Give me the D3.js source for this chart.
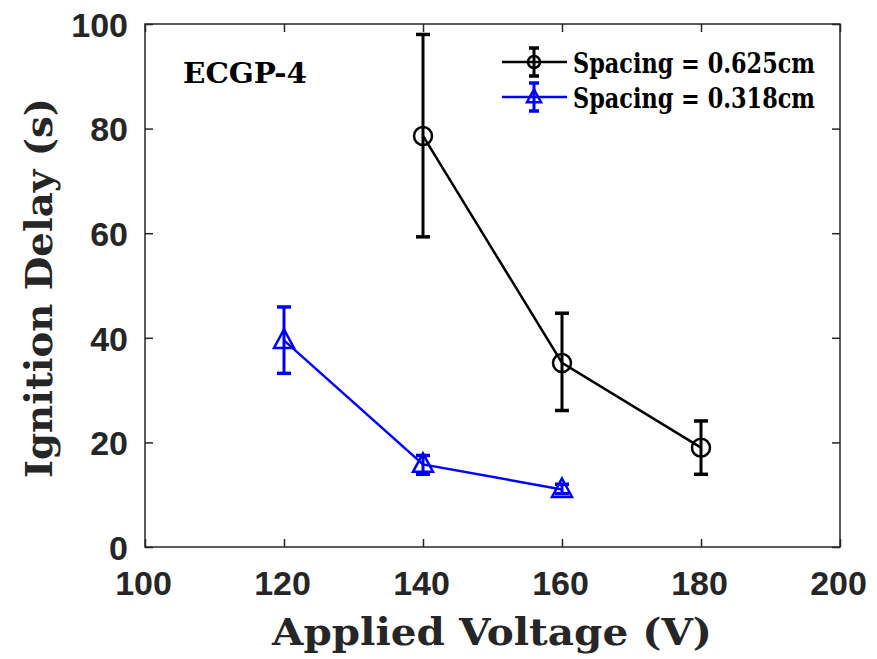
<!DOCTYPE html>
<html><head><meta charset="utf-8">
<script src="https://cdn.jsdelivr.net/npm/d3@7"></script>
<style>body{margin:0;background:#fff}</style>
</head><body>
<svg id="c" width="877" height="659"></svg>
<script>
const voltage1 = [140, 160, 180];
const delay1 = [78.6, 35.2, 19.0];
const lo1 = [59.3, 26.1, 13.9];
const hi1 = [98.0, 44.7, 24.1];
const voltage2 = [120, 140, 160];
const delay2 = [39.5, 15.8, 11.0];
const lo2 = [33.2, 13.9, 10.2];
const hi2 = [45.9, 17.5, 12.0];
const xTicks = [100, 120, 140, 160, 180, 200];
const yTicks = [0, 20, 40, 60, 80, 100];
const seriesNames = ["Spacing = 0.625cm", "Spacing = 0.318cm"];

const svg = d3.select("#c");
const L = 145, R = 840, T = 24, B = 547;
const x = d3.scaleLinear().domain([100, 200]).range([L, R]);
const y = d3.scaleLinear().domain([0, 100]).range([B, T]);
const axCol = "#262626";
const tickFont = "'Liberation Sans', Arial, sans-serif";
const serif = "'DejaVu Serif', 'Liberation Serif', serif";

// box
svg.append("rect").attr("x", L).attr("y", T).attr("width", R - L).attr("height", B - T)
  .attr("fill", "none").attr("stroke", axCol).attr("stroke-width", 1.5);

const gx = svg.append("g").attr("transform", `translate(0,${B})`)
  .call(d3.axisBottom(x).tickValues(xTicks).tickSize(-8).tickPadding(24));
const gxt = svg.append("g").attr("transform", `translate(0,${T})`)
  .call(d3.axisTop(x).tickValues(xTicks).tickSize(-8).tickFormat(""));
const gy = svg.append("g").attr("transform", `translate(${L},0)`)
  .call(d3.axisLeft(y).tickValues(yTicks).tickSize(-8).tickPadding(17));
const gyr = svg.append("g").attr("transform", `translate(${R},0)`)
  .call(d3.axisRight(y).tickValues(yTicks).tickSize(-8).tickFormat(""));
[gx, gxt, gy, gyr].forEach(g => {
  g.select(".domain").remove();
  g.selectAll("line").attr("stroke", axCol).attr("stroke-width", 1.5);
  g.selectAll("text").attr("fill", axCol).attr("font-family", tickFont)
    .attr("font-weight", "bold").attr("font-size", 34);
});
gx.selectAll("text").attr("dy", "0.71em").attr("dx", -2);
gy.selectAll("text").attr("dy", "0.36em");

// axis labels
svg.append("text").attr("x", 492).attr("y", 645).attr("text-anchor", "middle")
  .attr("font-family", serif).attr("font-weight", "bold").attr("font-size", 38)
  .attr("textLength", 440).attr("lengthAdjust", "spacingAndGlyphs")
  .attr("fill", axCol).text("Applied Voltage (V)");
svg.append("text").attr("transform", `translate(52,288) rotate(-90)`)
  .attr("text-anchor", "middle")
  .attr("font-family", serif).attr("font-weight", "bold").attr("font-size", 38)
  .attr("textLength", 380).attr("lengthAdjust", "spacingAndGlyphs")
  .attr("fill", axCol).text("Ignition Delay (s)");

svg.append("text").attr("x", 183).attr("y", 83).attr("font-family", serif)
  .attr("font-weight", "bold").attr("font-size", 27)
  .attr("textLength", 124).attr("lengthAdjust", "spacingAndGlyphs")
  .attr("fill", "#000").text("ECGP-4");

const line = d3.line().x(d => x(d[0])).y(d => y(d[1]));
const tri = (cx, cy, s) => `M${cx},${cy - s * 1.1}L${cx + s},${cy + s * 0.75}L${cx - s},${cy + s * 0.75}Z`;

function drawSeries(xs, ys, los, his, color, marker) {
  const g = svg.append("g");
  const pts = xs.map((v, i) => [v, ys[i]]);
  g.append("path").attr("d", line(pts)).attr("fill", "none").attr("stroke", color).attr("stroke-width", 2.5);
  xs.forEach((v, i) => {
    const cx = x(v);
    g.append("line").attr("x1", cx).attr("x2", cx).attr("y1", y(los[i])).attr("y2", y(his[i]))
      .attr("stroke", color).attr("stroke-width", 3);
    [los[i], his[i]].forEach(e => g.append("line").attr("x1", cx - 7).attr("x2", cx + 7)
      .attr("y1", y(e)).attr("y2", y(e)).attr("stroke", color).attr("stroke-width", 3.5));
    if (marker === "o") {
      g.append("circle").attr("cx", cx).attr("cy", y(ys[i])).attr("r", 9)
        .attr("fill", "none").attr("stroke", color).attr("stroke-width", 2.5);
    } else {
      g.append("path").attr("d", tri(cx, y(ys[i]), 10)).attr("fill", "none")
        .attr("stroke", color).attr("stroke-width", 2.5);
    }
  });
}
drawSeries(voltage1, delay1, lo1, hi1, "#000", "o");
drawSeries(voltage2, delay2, lo2, hi2, "#0000ff", "t");

// legend
const leg = [[seriesNames[0], "#000", "o", 62], [seriesNames[1], "#0000ff", "t", 97]];
leg.forEach(([name, col, m, ly]) => {
  const g = svg.append("g");
  g.append("line").attr("x1", 502).attr("x2", 567).attr("y1", ly).attr("y2", ly)
    .attr("stroke", col).attr("stroke-width", 2.5);
  g.append("line").attr("x1", 534).attr("x2", 534).attr("y1", ly - 14).attr("y2", ly + 14)
    .attr("stroke", col).attr("stroke-width", 3);
  [ly - 14, ly + 14].forEach(e => g.append("line").attr("x1", 529).attr("x2", 539)
    .attr("y1", e).attr("y2", e).attr("stroke", col).attr("stroke-width", 3.5));
  if (m === "o") g.append("circle").attr("cx", 534).attr("cy", ly).attr("r", 6)
    .attr("fill", "none").attr("stroke", col).attr("stroke-width", 2.5);
  else g.append("path").attr("d", tri(534, ly, 7)).attr("fill", "none").attr("stroke", col).attr("stroke-width", 2.5);
  g.append("text").attr("x", 573).attr("y", ly + 11).attr("font-family", serif)
    .attr("font-weight", "bold").attr("font-size", 27)
    .attr("textLength", 242).attr("lengthAdjust", "spacingAndGlyphs")
    .attr("fill", "#000").text(name);
});
</script>
</body></html>
